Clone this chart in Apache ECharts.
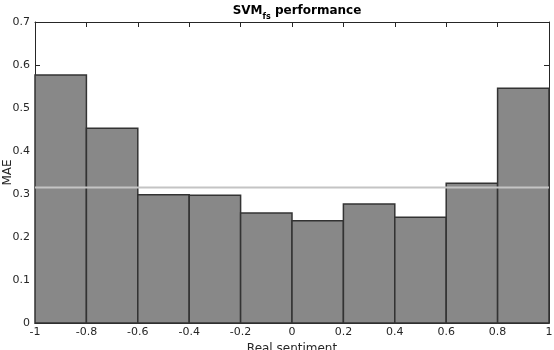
<!DOCTYPE html>
<html>
<head>
<meta charset="utf-8">
<script src="https://cdn.jsdelivr.net/npm/echarts@6/dist/echarts.min.js"></script>
<style>
  html, body { margin: 0; padding: 0; background: #fff; }
  #chart { width: 554px; height: 350px; }
</style>
</head>
<body>
<div id="chart"></div>
<script>
// bin edges of the sentiment histogram and MAE per bin
const binEdges = [-1, -0.8, -0.6, -0.4, -0.2, 0, 0.2, 0.4, 0.6, 0.8, 1];
const maeValues = [0.577, 0.453, 0.298, 0.297, 0.256, 0.238, 0.277, 0.246, 0.325, 0.546];
// overall MAE (grey horizontal line)
const meanMae = 0.315;

const axisColor = "#262626";
const font = "DejaVu Sans";

let barData = [];
for (let i = 0; i < maeValues.length; i++) {
  barData.push([binEdges[i], binEdges[i + 1], maeValues[i]]);
}

let chart = echarts.init(document.getElementById("chart"));

let xBase = {
  type: "value",
  min: -1,
  max: 1,
  interval: 0.2,
  splitLine: { show: false },
  axisLine: { show: true, onZero: false, lineStyle: { color: axisColor, width: 1 } },
  axisTick: { show: true, inside: true, length: 5, lineStyle: { color: axisColor } },
};
let yBase = {
  type: "value",
  min: 0,
  max: 0.7,
  interval: 0.1,
  splitLine: { show: false },
  axisLine: { show: true, onZero: false, lineStyle: { color: axisColor, width: 1 } },
  axisTick: { show: true, inside: true, length: 5, lineStyle: { color: axisColor } },
};

let option = {
  animation: false,
  title: {
    text: "{a|SVM}{b|fs}{a| performance}",
    left: 292,
    textAlign: "center",
    top: -2,
    textStyle: {
      rich: {
        a: { fontFamily: font, fontSize: 12, fontWeight: "bold", color: "#000", lineHeight: 16 },
        b: { fontFamily: font, fontSize: 8, fontWeight: "bold", color: "#000", padding: [12, 0, 0, 0], lineHeight: 16 },
      },
    },
  },
  grid: { left: 35, right: 5, top: 22, bottom: 27, containLabel: false, outerBoundsMode: "none" },
  xAxis: [
    Object.assign({}, xBase, {
      position: "bottom",
      name: "Real sentiment",
      nameLocation: "middle",
      nameGap: 19,
      nameTextStyle: { fontFamily: font, fontSize: 12, color: axisColor },
      axisLabel: {
        fontFamily: font,
        fontSize: 11,
        color: axisColor,
        margin: 4,
        formatter: (v) => String(Math.round(v * 10) / 10),
      },
    }),
    Object.assign({}, xBase, { position: "top", axisLabel: { show: false } }),
  ],
  yAxis: [
    Object.assign({}, yBase, {
      position: "left",
      name: "MAE",
      nameLocation: "middle",
      nameGap: 21,
      nameMoveOverlap: false,
      nameTextStyle: { fontFamily: font, fontSize: 12, color: axisColor },
      axisLabel: {
        fontFamily: font,
        fontSize: 11,
        color: axisColor,
        margin: 5,
        formatter: (v) => String(Math.round(v * 10) / 10),
      },
    }),
    Object.assign({}, yBase, { position: "right", axisLabel: { show: false } }),
  ],
  series: [
    {
      type: "custom",
      xAxisIndex: 0,
      yAxisIndex: 0,
      data: barData,
      encode: { x: [0, 1], y: 2 },
      renderItem: function (params, api) {
        let p0 = api.coord([api.value(0), api.value(2)]);
        let p1 = api.coord([api.value(1), 0]);
        return {
          type: "rect",
          shape: { x: p0[0], y: p0[1], width: p1[0] - p0[0], height: p1[1] - p0[1] },
          style: { fill: "#888888", stroke: "#333333", lineWidth: 1.5 },
        };
      },
      z: 2,
    },
    {
      type: "line",
      xAxisIndex: 0,
      yAxisIndex: 0,
      data: [[-1, meanMae], [1, meanMae]],
      symbol: "none",
      lineStyle: { color: "#c4c4c4", width: 2 },
      z: 3,
    },
  ],
};

chart.setOption(option);
</script>
</body>
</html>
